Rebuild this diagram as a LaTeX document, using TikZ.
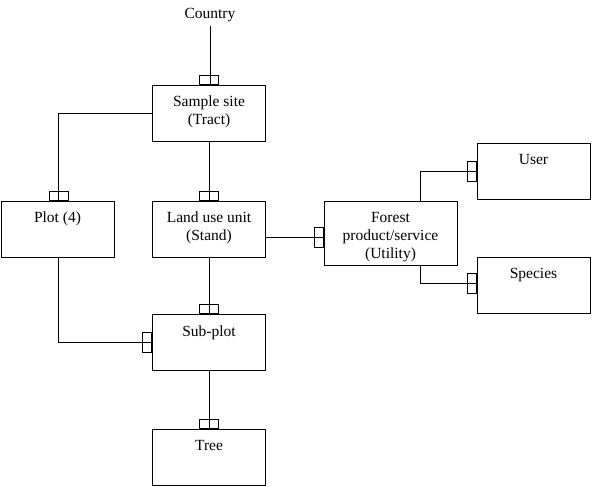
\documentclass[tikz,border=0pt]{standalone}
\usepackage{fontspec}
\setmainfont{Liberation Serif}
\begin{document}
\begin{tikzpicture}[x=1pt,y=-1pt,
  line width=0.9pt,
  lbl/.style={font=\fontsize{15.5}{18}\selectfont, align=center, inner sep=0pt},
  box/.style={draw, minimum width=113pt, minimum height=56pt, inner sep=0pt,
    label={[lbl, anchor=north, yshift=-11pt]north:{#1}}},
  vstub/.style={draw, minimum width=19pt, minimum height=9pt, inner sep=0pt},
  hstub/.style={draw, minimum width=9pt, minimum height=20pt, inner sep=0pt}]
\useasboundingbox (0,0) rectangle (592,487);
% boxes
\node[box={Sample site\\(Tract)}] (site) at (209,113) {};
\node[box={Plot (4)}] (plot) at (57.5,229) {};
\node[box={Land use unit\\(Stand)}] (land) at (209,229) {};
\node[box={Forest\\product/service\\(Utility)}, minimum width=133pt, minimum height=64pt] (forest) at (390.5,233) {};
\node[box={User}] (user) at (533.5,171) {};
\node[box={Species}] (species) at (533.5,285) {};
\node[box={Sub-plot}] (sub) at (209,342.5) {};
\node[box={Tree}] (tree) at (209,457) {};
\node[lbl, inner sep=3pt] (country) at (210,15.5) {Country};
% stubs
\node[vstub, anchor=south] (sitestub) at (site.north) {};
\node[vstub, anchor=south] (plotstub) at ([xshift=1pt]plot.north) {};
\node[vstub, anchor=south] (landstub) at (land.north) {};
\node[vstub, anchor=south] (substub) at (sub.north) {};
\node[vstub, anchor=south] (treestub) at (tree.north) {};
\node[hstub, anchor=east] (foreststub) at ([yshift=-4.5pt]forest.west) {};
\node[hstub, anchor=east] (userstub) at (user.west) {};
\node[hstub, anchor=east] (speciesstub) at ([yshift=1.5pt]species.west) {};
\node[hstub, anchor=east] (subsidestub) at (sub.west) {};
% connectors
\draw (country.south) -- (country.south |- site.north);
\draw (site.west) -| (plotstub.north) -- (plotstub.south);
\draw (site.south) -- (land.north);
\draw (land.east |- foreststub.center) -- (forest.west |- foreststub.center);
\draw (land.south) -- (sub.north);
\draw (sub.south) -- (tree.north);
\draw (plot.south -| plotstub.center) |- (sub.west);
\coordinate (fx) at (420,0);
\draw (fx |- forest.north) |- (user.west);
\draw (fx |- forest.south) |- (species.west |- speciesstub.center);
\end{tikzpicture}
\end{document}
